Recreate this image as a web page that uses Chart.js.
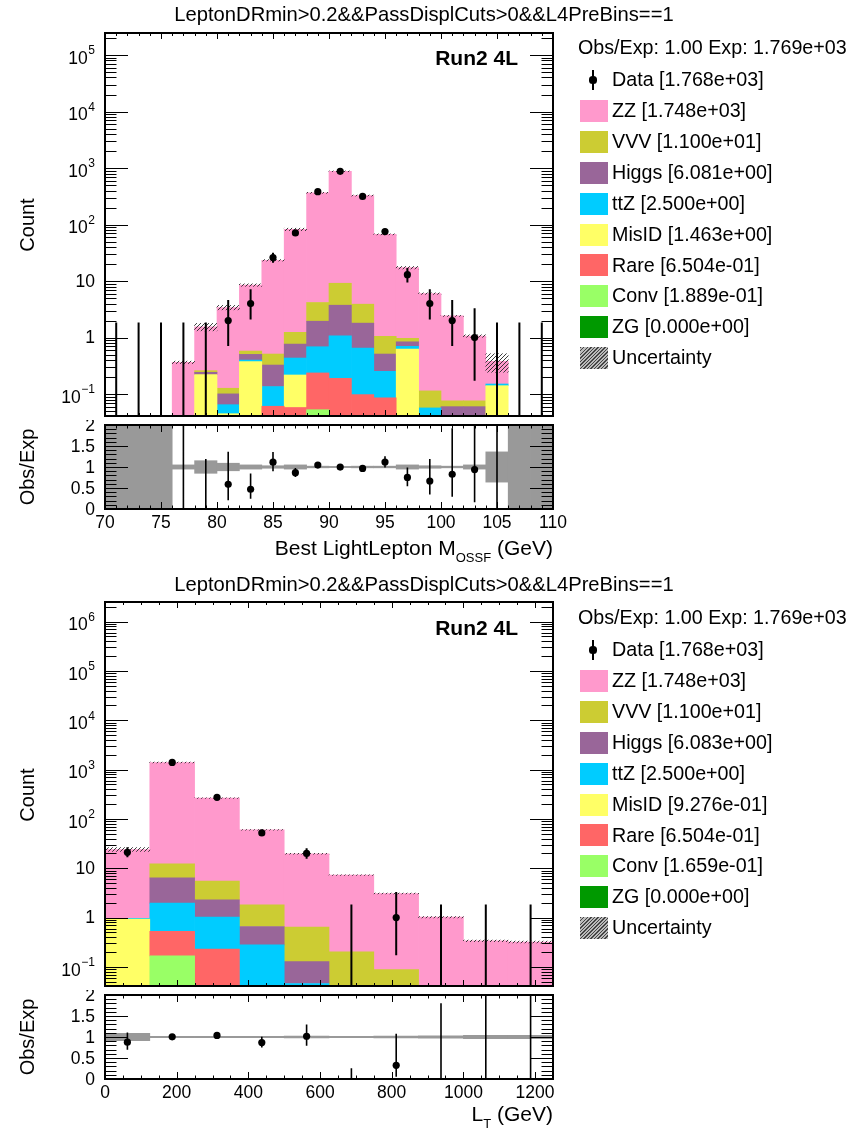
<!DOCTYPE html>
<html>
<head>
<meta charset="utf-8">
<script src="https://cdn.jsdelivr.net/npm/chart.js@4.4.1/dist/chart.umd.min.js"></script>
<style>
html,body{margin:0;padding:0;background:#fff;}
#wrap{position:relative;width:849px;height:1132px;overflow:hidden;background:#fff;font-family:"Liberation Sans",Arial,Helvetica,sans-serif;color:#000;}
#wrap canvas{position:absolute;left:0;}
.t{position:absolute;white-space:nowrap;line-height:1;}
.sw{position:absolute;width:28px;height:22px;}
sub{font-size:13px;vertical-align:-7px;line-height:0;}
</style>
</head>
<body>
<div id="wrap">
<canvas id="cTopMain" width="849" height="420" style="top:0px"></canvas>
<canvas id="cTopRatio" width="849" height="115" style="top:420px"></canvas>
<canvas id="cBotMain" width="849" height="450" style="top:540px"></canvas>
<canvas id="cBotRatio" width="849" height="142" style="top:990px"></canvas>
</div>
<script>
// ---------------- data ----------------
const procNames  = ['ZG','Conv','Rare','MisID','ttZ','Higgs','VVV','ZZ']; // stack order, bottom -> top
const procColors = ['#009900','#99ff66','#ff6666','#ffff66','#00ccff','#996699','#cccc33','#ff99cc'];

const plotTitle = 'LeptonDRmin>0.2&&PassDisplCuts>0&&L4PreBins==1';
const obsExpText = 'Obs/Exp: 1.00 Exp: 1.769e+03';

// ---- top panel: Best LightLepton M_OSSF, 2 GeV bins from 70 to 110
const topBins  = [71,73,75,77,79,81,83,85,87,89,91,93,95,97,99,101,103,105,107,109];
const topZG    = [0,0,0,0,0, 0,0,0,0,0, 0,0,0,0,0, 0,0,0,0,0];
const topConv  = [0,0,0,0,0, 0,0,0,0,0.053, 0,0,0,0,0, 0,0,0,0,0];
const topRare  = [0,0,0,0,0, 0,0,0.061,0.058,0.184, 0.19,0.098,0.086,0,0, 0,0,0,0,0];
const topMisID = [0,0,0,0,0.221, 0.045,0.375,0,0.160,0, 0,0,0,0.627,0, 0,0,0.141,0,0];
const topTtZ   = [0,0,0,0,0, 0.020,0.025,0.075,0.217,0.452, 0.89,0.555,0.167,0.073,0.057, 0,0,0.010,0,0];
const topHiggs = [0,0,0,0,0.022, 0.036,0.105,0.191,0.333,1.26, 2.66,1.15,0.259,0.143,0, 0.060,0.060,0,0,0];
const topVVV   = [0,0,0,0,0.017, 0.026,0.073,0.185,0.47,2.23, 5.41,2.10,0.54,0.127,0.057, 0.016,0.016,0,0,0];
const topZZ    = [0,0,0,0.365,1.29, 3.28,7.92,22.8,80.8,360, 866,322,66,16.3,5.89, 2.34,0.99,0.23,0,0];
const topData   = [0,0,0,0,0, 2,4,26,71,381, 874,315,75,13,4, 2,1,0,0,0];
const topDataLo = [0,0,0,0,0, 0.708,2.086,21.0,62.6,361.5, 844.4,297.3,66.4,9.4,2.086, 0.708,0.173,0,0,0];
const topDataHi = [1.841,1.841,1.841,1.841,1.841, 4.638,7.163,31.6,80.0,401.0, 904.1,333.3,84.2,17.1,7.163, 4.638,3.300,1.841,1.841,1.841];
const topUncRel = [null,null,null,0.05,0.15, 0.09,0.05,0.03,0.05,0.02, 0.015,0.02,0.02,0.05,0.03, 0.02,0.05,0.36,null,null];
const topLegendValues = ['1.768e+03','1.748e+03','1.100e+01','6.081e+00','2.500e+00','1.463e+00','6.504e-01','1.889e-01','0.000e+00'];
const topXTicks = [70,75,80,85,90,95,100,105,110];
const topXTickLabels = ['70','75','80','85','90','95','100','105','110'];
const topYTicks = [0.1,1,10,100,1000,10000,100000];
const topYTickLabels = [['10','\u22121'],['1',''],['10',''],['10','2'],['10','3'],['10','4'],['10','5']];

// ---- bottom panel: L_T, 125 GeV bins from 0 to 1250
const botBins  = [62.5,187.5,312.5,437.5,562.5,687.5,812.5,937.5,1062.5,1187.5];
const botZG    = [0,0,0,0,0,0,0,0,0,0];
const botConv  = [0,0.167,0,0,0,0,0,0,0,0];
const botRare  = [0,0.362,0.229,0,0,0,0,0,0,0];
const botMisID = [0.93,0,0,0,0,0,0,0,0,0];
const botTtZ   = [0.04,1.43,0.80,0.279,0.046,0,0,0,0,0];
const botHiggs = [0,4.42,1.26,0.379,0.082,0,0,0,0,0];
const botVVV   = [0,5.92,3.18,1.15,0.51,0.201,0.088,0,0,0];
const botZZ    = [23.0,1381,258.5,58.2,19.0,7.04,2.98,1.02,0.337,0.32];
const botData   = [21,1400,274,52,20,0,1,0,0,0];
const botDataLo = [16.7,1362.6,257.7,45.0,15.6,0,0.173,0,0,0];
const botDataHi = [26.6,1437.9,291.1,60.2,25.5,1.841,3.300,1.841,1.841,1.841];
const botUncRel = [0.09,0.015,0.015,0.015,0.02,0.015,0.02,0.03,0.04,0.04];
const botLegendValues = ['1.768e+03','1.748e+03','1.100e+01','6.083e+00','2.500e+00','9.276e-01','6.504e-01','1.659e-01','0.000e+00'];
const botXTicks = [0,200,400,600,800,1000,1200];
const botXTickLabels = ['0','200','400','600','800','1000','1200'];
const botYTicks = [0.1,1,10,100,1000,10000,100000,1000000];
const botYTickLabels = [['10','\u22121'],['1',''],['10',''],['10','2'],['10','3'],['10','4'],['10','5'],['10','6']];

const ratioYTicks = [0,0.5,1,1.5,2];
const ratioYTickLabels = ['0','0.5','1','1.5','2'];

// ---------------- styling ----------------
const FONT = '"Liberation Sans", Arial, Helvetica, sans-serif';
const TICKFONT = 17.5;

// ---------------- helpers ----------------
function linMinor(min, max, step){ const r=[]; for(let k=0;;k++){ const v=min+k*step; if(v>max+1e-9) break; r.push(+v.toFixed(6)); } return r; }
function logMinor(min, max){ const r=[]; for(let d=Math.floor(Math.log10(min)); d<=Math.ceil(Math.log10(max)); d++){ for(let k=2;k<=9;k++){ const v=k*Math.pow(10,d); if(v>min && v<max) r.push(v);} } return r; }

function makeHatch(ctx){
  const c=document.createElement('canvas'); c.width=4; c.height=4;
  const g=c.getContext('2d');
  g.strokeStyle='rgba(50,50,50,0.95)'; g.lineWidth=1;
  g.beginPath(); g.moveTo(0,4); g.lineTo(4,0); g.moveTo(-1,1); g.lineTo(1,-1); g.moveTo(3,5); g.lineTo(5,3); g.stroke();
  return ctx.createPattern(c,'repeat');
}

const rootAxes = {
  id:'rootAxes',
  afterDatasetsDraw(chart, args, o){
    if(!o || !o.err) return;
    const {ctx, chartArea:a} = chart;
    const xs = chart.scales.x, ys = chart.scales[o.err.yId];
    ctx.save();
    ctx.beginPath(); ctx.rect(a.left, a.top, a.right-a.left, a.bottom-a.top); ctx.clip();
    ctx.strokeStyle='#000'; ctx.lineWidth=o.err.lw;
    ctx.beginPath();
    o.err.pts.forEach(p=>{ const x=xs.getPixelForValue(p.x); ctx.moveTo(x, ys.getPixelForValue(p.lo)); ctx.lineTo(x, ys.getPixelForValue(p.hi)); });
    ctx.stroke();
    ctx.restore();
  },
  afterDraw(chart, args, o){
    if(!o || !o.xMajor) return;
    const {ctx, chartArea:a} = chart;
    const xs = chart.scales.x, ys = chart.scales[o.yId];
    ctx.save();
    ctx.strokeStyle='#000'; ctx.lineWidth=1;
    ctx.beginPath();
    const vx=(v)=>Math.round(xs.getPixelForValue(v))+0.5;
    const vy=(v)=>Math.round(ys.getPixelForValue(v))+0.5;
    o.xMinor.forEach(v=>{ const p=vx(v); ctx.moveTo(p,a.bottom); ctx.lineTo(p,a.bottom-o.xMinLen); ctx.moveTo(p,a.top); ctx.lineTo(p,a.top+o.xMinLen); });
    o.xMajor.forEach(v=>{ const p=vx(v); ctx.moveTo(p,a.bottom); ctx.lineTo(p,a.bottom-o.xMajLen); ctx.moveTo(p,a.top); ctx.lineTo(p,a.top+o.xMajLen); });
    o.yMinor.forEach(v=>{ const p=vy(v); ctx.moveTo(a.left,p); ctx.lineTo(a.left+o.yMinLen,p); ctx.moveTo(a.right,p); ctx.lineTo(a.right-o.yMinLen,p); });
    o.yMajor.forEach(v=>{ const p=vy(v); ctx.moveTo(a.left,p); ctx.lineTo(a.left+o.yMajLen,p); ctx.moveTo(a.right,p); ctx.lineTo(a.right-o.yMajLen,p); });
    ctx.stroke();
    ctx.lineWidth=2;
    ctx.strokeRect(a.left, a.top, a.right-a.left, a.bottom-a.top);
    ctx.fillStyle='#000';
    ctx.textBaseline='middle';
    const R = a.left - 10;
    (o.yLabels||[]).forEach(l=>{
      const y = ys.getPixelForValue(l.v);
      ctx.textAlign='right';
      if(l.exp){
        ctx.font = `${Math.round(TICKFONT*0.7)}px ${FONT}`;
        const w = ctx.measureText(l.exp).width;
        ctx.fillText(l.exp, R, y-4);
        ctx.font = `${TICKFONT}px ${FONT}`;
        ctx.fillText(l.base, R-w-0.5, y+4);
      } else {
        ctx.font = `${TICKFONT}px ${FONT}`;
        ctx.fillText(l.base, R, y+1);
      }
    });
    (o.xLabels||[]).forEach(l=>{
      ctx.font = `${TICKFONT}px ${FONT}`;
      ctx.textAlign='center';
      ctx.fillText(l.t, xs.getPixelForValue(l.v), a.bottom+14);
    });
    ctx.restore();
  }
};
Chart.register(rootAxes);

function totalsOf(stacks){ return stacks[0].map((_,i)=>stacks.reduce((s,arr)=>s+arr[i],0)); }

function makeMain(id, padTop, padBottom, bins, stacks, data, lo, hi, unc, xMin, xMax, xTicks, xMinorStep, yMin, yMax, yTicks, yTickLabels){
  const cv=document.getElementById(id); const ctx=cv.getContext('2d');
  const totals = totalsOf(stacks);
  const datasets=[];
  stacks.forEach((arr,k)=>datasets.push({type:'bar', label:procNames[k], data:bins.map((x,i)=>({x, y:arr[i]})), backgroundColor:procColors[k], borderWidth:0, yAxisID:'y', grouped:false, barPercentage:1, categoryPercentage:1, order:10, clip:0}));
  datasets.push({type:'bar', label:'Uncertainty', data:bins.map((x,i)=>({x, y:[totals[i]*(1-(unc[i]||0)), totals[i]*(1+(unc[i]||0))]})).filter((d,i)=>totals[i]>0 && unc[i]!=null), backgroundColor:makeHatch(ctx), borderWidth:0, yAxisID:'yo', grouped:false, barPercentage:1, categoryPercentage:1, order:5, clip:0});
  datasets.push({type:'scatter', label:'Data', data:bins.map((x,i)=>({x, y:data[i]})).filter(d=>d.y>0), yAxisID:'yo', pointRadius:3.6, pointBackgroundColor:'#000', pointBorderWidth:0, order:0, clip:0});
  return new Chart(ctx, {
    type:'bar',
    data:{datasets},
    options:{
      responsive:false, animation:false, events:[],
      layout:{padding:{left:105, right:296, top:padTop, bottom:padBottom}},
      plugins:{legend:{display:false}, tooltip:{enabled:false}, title:{display:false},
        rootAxes:{
          err:{yId:'yo', lw:2, pts:bins.map((x,i)=>({x, lo:lo[i], hi:hi[i]}))},
          xMajor:xTicks, xMinor:linMinor(xMin,xMax,xMinorStep), xMajLen:6, xMinLen:3,
          yId:'y', yMajor:yTicks, yMinor:logMinor(yMin,yMax), yMajLen:23, yMinLen:11.5,
          yLabels:yTicks.map((v,i)=>({v, base:yTickLabels[i][0], exp:yTickLabels[i][1]})),
          xLabels:null
        }},
      scales:{
        x:{type:'linear', min:xMin, max:xMax, offset:false, display:false, stacked:true},
        y:{type:'logarithmic', min:yMin, max:yMax, display:false, stacked:true, bounds:'data'},
        yo:{type:'logarithmic', min:yMin, max:yMax, display:false, stacked:false, bounds:'data'}
      }
    }
  });
}

function makeRatio(id, padTop, padBottom, bins, stacks, data, lo, hi, unc, xMin, xMax, xTicks, xTickLabels, xMinorStep){
  const cv=document.getElementById(id); const ctx=cv.getContext('2d');
  const totals = totalsOf(stacks);
  const datasets=[
    {type:'bar', label:'Uncertainty', data:bins.map((x,i)=>({x, y:(totals[i]>0 && unc[i]!=null) ? [1-unc[i], 1+unc[i]] : [0,2]})), backgroundColor:'#999999', borderWidth:0, grouped:false, barPercentage:1, categoryPercentage:1, order:5, clip:0},
    {type:'scatter', label:'Obs/Exp', data:bins.map((x,i)=>({x, y:totals[i]>0 ? data[i]/totals[i] : 0})).filter((d,i)=>data[i]>0 && totals[i]>0), pointRadius:3.6, pointBackgroundColor:'#000', pointBorderWidth:0, order:0, clip:0}
  ];
  const errPts = bins.map((x,i)=>({x, lo:totals[i]>0?lo[i]/totals[i]:0, hi:totals[i]>0?hi[i]/totals[i]:0})).filter((p,i)=>totals[i]>0);
  return new Chart(ctx, {
    type:'bar',
    data:{datasets},
    options:{
      responsive:false, animation:false, events:[],
      layout:{padding:{left:105, right:296, top:padTop, bottom:padBottom}},
      plugins:{legend:{display:false}, tooltip:{enabled:false}, title:{display:false},
        rootAxes:{
          err:{yId:'y', lw:1.6, pts:errPts},
          xMajor:xTicks, xMinor:linMinor(xMin,xMax,xMinorStep), xMajLen:7, xMinLen:3.5,
          yId:'y', yMajor:ratioYTicks, yMinor:linMinor(0,2,0.1), yMajLen:23, yMinLen:11.5,
          yLabels:ratioYTicks.map((v,i)=>({v, base:ratioYTickLabels[i], exp:''})),
          xLabels:xTicks.map((v,i)=>({v, t:xTickLabels[i]}))
        }},
      scales:{
        x:{type:'linear', min:xMin, max:xMax, offset:false, display:false},
        y:{type:'linear', min:0, max:2, display:false, bounds:'data'}
      }
    }
  });
}

const topStacks = [topZG, topConv, topRare, topMisID, topTtZ, topHiggs, topVVV, topZZ];
const botStacks = [botZG, botConv, botRare, botMisID, botTtZ, botHiggs, botVVV, botZZ];

makeMain('cTopMain', 33, 3, topBins, topStacks, topData, topDataLo, topDataHi, topUncRel, 70, 110, topXTicks, 1, 0.041, 2.45e5, topYTicks, topYTickLabels);
makeRatio('cTopRatio', 5, 26, topBins, topStacks, topData, topDataLo, topDataHi, topUncRel, 70, 110, topXTicks, topXTickLabels, 1);
makeMain('cBotMain', 62, 4, botBins, botStacks, botData, botDataLo, botDataHi, botUncRel, 0, 1250, botXTicks, 50, 0.041, 2.5e6, botYTicks, botYTickLabels);
makeRatio('cBotRatio', 5, 53, botBins, botStacks, botData, botDataLo, botDataHi, botUncRel, 0, 1250, botXTicks, botXTickLabels, 50);

// ---------------- text: titles, axis titles, legends ----------------
const wrap=document.getElementById('wrap');
function addText(html, css){ const d=document.createElement('div'); d.className='t'; d.innerHTML=html; Object.assign(d.style, css); wrap.appendChild(d); return d; }
function esc(s){ return s.replace(/&/g,'&amp;').replace(/</g,'&lt;').replace(/>/g,'&gt;'); }

const LEGFONT = 19.7;
[0,570].forEach((dy,pi)=>{
  addText(esc(plotTitle), {left:'424px', top:(14+dy-10)+'px', fontSize:'20.2px', transform:'translateX(-50%)'});
  addText('Run2 4L', {right:(849-518)+'px', top:(57.5+dy-10.5)+'px', fontSize:'21px', fontWeight:'bold'});
  addText('Count', {left:'27px', top:(225+dy)+'px', fontSize:'20px', transform:'translate(-50%,-50%) rotate(-90deg)'});
  addText('Obs/Exp', {left:'27px', top:(467+dy)+'px', fontSize:'20px', transform:'translate(-50%,-50%) rotate(-90deg)'});
  // legend
  const vals = pi===0 ? topLegendValues : botLegendValues;
  addText(esc(obsExpText), {left:'578px', top:(48+dy-LEGFONT/2)+'px', fontSize:LEGFONT+'px'});
  const names=['Data','ZZ','VVV','Higgs','ttZ','MisID','Rare','Conv','ZG','Uncertainty'];
  names.forEach((n,i)=>{
    const cy = 80 + 30.9*i + dy;
    const label = i<9 ? `${n} [${vals[i]}]` : n;
    addText(esc(label), {left:'612px', top:(cy-LEGFONT/2)+'px', fontSize:LEGFONT+'px'});
    if(i===0){
      const ln=document.createElement('div'); Object.assign(ln.style,{position:'absolute',left:'592px',top:(cy-10)+'px',width:'2px',height:'20px',background:'#000'}); wrap.appendChild(ln);
      const dt=document.createElement('div'); Object.assign(dt.style,{position:'absolute',left:'589.4px',top:(cy-3.6)+'px',width:'7.2px',height:'7.2px',borderRadius:'50%',background:'#000'}); wrap.appendChild(dt);
    } else {
      const sw=document.createElement('div'); sw.className='sw';
      const col = i<9 ? procColors[procNames.indexOf(n)] : null;
      Object.assign(sw.style,{left:'580px', top:(cy-11)+'px'});
      if(col) sw.style.background=col;
      else sw.style.background='repeating-linear-gradient(135deg, #444 0px, #444 1px, #bbb 1px, #bbb 2.5px)';
      wrap.appendChild(sw);
    }
  });
});
addText('Best LightLepton M<sub>OSSF</sub> (GeV)', {right:(849-553)+'px', top:(547-10)+'px', fontSize:'21px'});
addText('L<sub>T</sub> (GeV)', {right:(849-553)+'px', top:(1113-10)+'px', fontSize:'21px'});
</script>
</body>
</html>
